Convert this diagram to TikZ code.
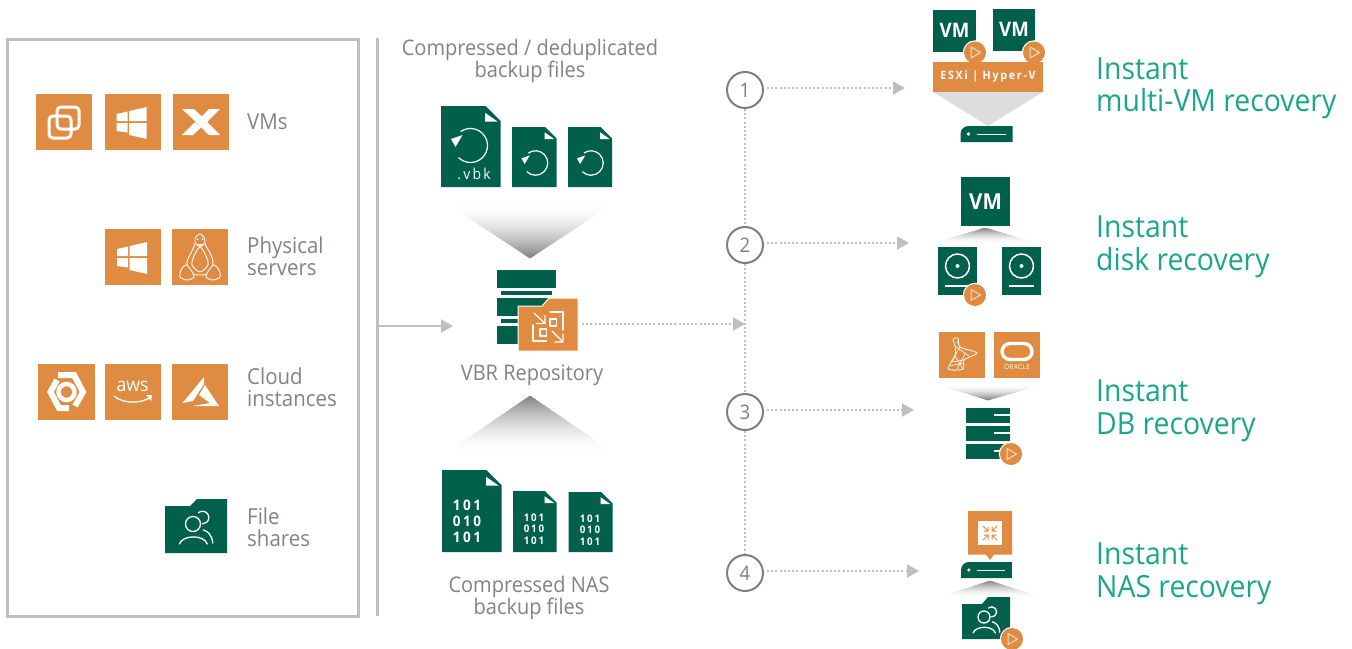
\documentclass[tikz,border=0pt]{standalone}
\usepackage{fontspec}
\setmainfont[FakeStretch=0.93]{Open Sans}
\usetikzlibrary{arrows.meta}
\definecolor{vorange}{HTML}{DF8C42}
\definecolor{vgreen}{HTML}{00604C}
\definecolor{vteal}{HTML}{1AA68D}
\definecolor{vtext}{HTML}{7F8485}
\definecolor{vline}{HTML}{BFBFBF}
\definecolor{vring}{HTML}{7F7F7F}
\definecolor{vplay}{HTML}{F6DCC4}
\definecolor{vfunnel}{HTML}{DCDEDD}
\newcommand{\fs}[2]{\fontsize{#1}{#2}\selectfont}
\newcommand{\spaced}[1]{\addfontfeature{LetterSpace=#1}}
% file icon: x0 y0 x1 y1 cut
\newcommand{\docicon}[5]{%
  \fill[vgreen] (#1,#2) -- ({#3-#5},#2) -- (#3,{#2+#5}) -- (#3,#4) -- (#1,#4) -- cycle;
  \fill[white] ({#3-#5-0.5},{#2+0.45*#5}) -- ({#3-0.2*#5},{#2+#5+0.5}) -- ({#3-#5-0.5},{#2+#5+0.5}) -- cycle;
}
% fading triangle: tip x, tip y, base x0, base x1, base y
\newcommand{\funnel}[5]{%
  \foreach \k in {1,...,40}{%
    \pgfmathsetmacro{\tt}{\k/40}%
    \pgfmathsetmacro{\pct}{50*pow(\tt,1.7)}%
    \fill[black!\pct!white] (#1,#2) -- ({#3+(#1-#3)*\tt},{#5+(#2-#5)*\tt}) -- ({#4+(#1-#4)*\tt},{#5+(#2-#5)*\tt}) -- cycle;
  }%
}
\tikzset{
  x=1pt,y=-1pt,
  grouplabel/.style={anchor=west,inner sep=0,align=left,text=vtext,font=\fs{22}{22.5}},
  midlabel/.style={inner sep=0,align=center,text=vtext,font=\fs{21.5}{22.5}},
  reclabel/.style={anchor=west,inner sep=0,align=left,text=vteal,font=\fs{30.5}{32.5}},
  stepring/.style={circle,draw=vring,line width=2,fill=white,minimum size=36,inner sep=0,text=vring,font=\fs{20}{20}},
  dotline/.style={draw=vline,line width=2,dash pattern=on 2pt off 2.2pt},
  bigtip/.style={-{Triangle[length=12,width=13,fill=vline]}},
  white1/.style={draw=white,line width=1.2,line cap=round,line join=round},
  inicon/.style={inner sep=0,text=white,align=center},
  playmark/.pic={
    \fill[white] (0,0) circle[radius=12.2];
    \fill[vorange] (0,0) circle[radius=11];
    \draw[draw=vplay,line width=1,line join=round] (-4,-5.5) -- (5.5,0) -- (-4,5.5) -- cycle;
  },
  reloadmark/.pic={
    \draw[white,line width=1.2] (135:17) arc[start angle=135,end angle=-125,radius=17];
    \fill[white] (-19.5,-6.5) -- (-8,-10.5) -- (-15,1.5) -- cycle;
  },
  peoplemark/.pic={
    \draw[white1,line width=1.3] (0,0) circle[radius=7.5];
    \draw[white1,line width=1.3] (5.5,-11.3) arc[start angle=-130,end angle=90,radius=6.3];
    \draw[white1,line width=1.3] (-13.7,20) .. controls (-10,10.5) and (11,10.5) .. (14.3,20);
    \draw[white1,line width=1.3] (10.3,6) .. controls (14,7) and (19,10) .. (19.7,19);
  },
  vsphere/.pic={
    \fill[vorange] (0,0) rectangle (56,56);
    \draw[white,line width=3,rounded corners=4] (13,22) rectangle (35,44);
    \draw[white,line width=3,rounded corners=4] (21,13) rectangle (43,35);
  },
  winlogo/.pic={
    \fill[vorange] (0,0) rectangle (56,56);
    \fill[white] (12,20) -- (23,17.5) -- (23,27) -- (12,27) -- cycle;
    \fill[white] (24.7,17) -- (42,13) -- (42,27) -- (24.7,27) -- cycle;
    \fill[white] (12,29) -- (23,29) -- (23,38.5) -- (12,37) -- cycle;
    \fill[white] (24.7,29) -- (42,29) -- (42,45) -- (24.7,41) -- cycle;
  },
  nutanix/.pic={
    \fill[vorange] (0,0) rectangle (56,56);
    \fill[white] (9,15) -- (21,15) -- (47,41) -- (36,41) -- (24,29) -- cycle;
    \fill[white] (47,15) -- (36,15) -- (28,23) -- (33,29) -- cycle;
    \fill[white] (9,41) -- (20,41) -- (28,33.5) -- (22,28) -- cycle;
  },
  tux/.pic={
    \fill[vorange] (0,0) rectangle (56,56);
    \draw[white1,line width=.9] plot[smooth cycle] coordinates {(28,5) (32.5,9) (33,15) (38,24) (41,33) (38,44) (28,46) (18,44) (15,33) (19,24) (23,15) (23,9)};
    \draw[white1,line width=.9] plot[smooth cycle] coordinates {(28,18) (34,27) (36,36) (28,43) (20,36) (22,27)};
    \draw[white1,line width=.9,fill=vorange] plot[smooth cycle] coordinates {(9,41) (14,36) (19,41) (22,48) (15,51) (8,48)};
    \draw[white1,line width=.9,fill=vorange] plot[smooth cycle] coordinates {(47,41) (42,36) (37,41) (34,48) (41,51) (48,48)};
    \fill[white] (23,14) .. controls (25,16) and (31,16) .. (33,14) .. controls (31,19) and (25,19) .. (23,14) -- cycle;
    \fill[white] (25.5,10) circle[radius=1];
    \fill[white] (30.5,10) circle[radius=1];
  },
  gcp/.pic={
    \fill[vorange] (0,0) rectangle (57,56);
    \draw[white,line width=6] (20,11) -- (36,11) -- (45,28) -- (37,42);
    \draw[white,line width=6] (31,44) -- (21,44) -- (12.5,28) -- (19,16);
    \draw[white,line width=4.5] (28.5,28) circle[radius=8];
  },
  awsicon/.pic={
    \fill[vorange] (0,0) rectangle (56,56);
    \node[inicon,font=\fs{19}{19}] (awsword) at (27.5,22.5) {aws};
    \draw[white,line width=1.3] (9,32) .. controls (18,40) and (36,40) .. (46,33);
    \fill[white] (41,31) -- (47,31) -- (46,37) -- cycle;
  },
  azure/.pic={
    \fill[vorange] (0,0) rectangle (56,56);
    \fill[white] (32,13) -- (10.5,39) -- (21,37) -- (32,20) -- cycle;
    \fill[white] (33,21) -- (47,42) -- (21,42) -- (38,39) -- (27,31) -- cycle;
  },
  sqlicon/.pic={
    \fill[vorange] (0,0) rectangle (46,46);
    \draw[white1,line width=.8] plot[smooth cycle] coordinates {(14,7) (19,6) (21,15) (38,21) (25,28) (24,37) (9,37) (16,24) (16,14)};
    \draw[white1,line width=.6] (16,14) -- (30,24) (21,15) -- (12,30) (16,24) -- (24,37) (13,30) -- (25,28) (17,10) -- (20,11) (11,34) -- (24,31) (18,37) -- (26,22);
  },
  oraclemark/.pic={
    \fill[vorange] (0,0) rectangle (46,46);
    \draw[white,line width=3.4] (16,11.5) -- (30,11.5) arc[start angle=-90,end angle=90,radius=8] -- (16,27.5) arc[start angle=90,end angle=270,radius=8] -- cycle;
    \node[inicon,font=\fs{7}{7}] (oracleword) at (23,35) {\spaced{5}ORACLE};
  },
  serverbar/.pic={
    \fill[vgreen] (0,16) -- (0,8) arc[start angle=180,end angle=270,radius=8] -- (52,0) -- (52,16) -- cycle;
    \fill[white] (8,8) circle[radius=1.8];
    \draw[white,line width=.9] (16,8) -- (45,8);
  },
  diskicon/.pic={
    \fill[vgreen] (0,0) rectangle (39,48);
    \draw[white,line width=1.5] (19.5,19) circle[radius=12];
    \fill[white] (19.5,19) circle[radius=2];
    \draw[white,line width=1.5] (7,39) -- (32,39);
  },
  vmsquare/.pic={
    \fill[vgreen] (0,0) rectangle (42.5,42);
    \node[inicon,font=\bfseries\fs{20}{20}] (vmword) at (21.5,20.5) {VM};
  }
}
\begin{document}
\begin{tikzpicture}
\useasboundingbox (0,0) rectangle (1352,648);
\fill[white] (0,0) rectangle (1352,648);

% left frame and divider
\node[draw=vline,line width=3,outer sep=0,minimum width=351,minimum height=577,inner sep=0,anchor=north west] (sources) at (7,39) {};
\coordinate (divtop) at (377.5,38);
\coordinate (divbot) at (377.5,616);
\draw[vline,line width=3] (divtop) -- (divbot);

% sources
\pic at (36,94) {vsphere};
\pic at (104.5,94) {winlogo};
\pic at (173,94) {nutanix};
\node[grouplabel] (vmslabel) at (247,122) {VMs};
\pic at (105,229) {winlogo};
\pic at (172,229) {tux};
\node[grouplabel] (physlabel) at (247,256) {Physical\\servers};
\pic at (38,364) {gcp};
\pic at (105,364) {awsicon};
\pic at (172,364) {azure};
\node[grouplabel] (cloudlabel) at (247,387) {Cloud\\instances};
\fill[vgreen] (165,506) -- (190,506) -- (197,499) -- (227,499) -- (227,553) -- (165,553) -- cycle;
\pic at (193,524) {peoplemark};
\node[grouplabel] (filelabel) at (247,527) {File\\shares};

% backup files
\node[midlabel] (toplabel) at (530,61) {Compressed / deduplicated\\backup files};
\docicon{441}{106}{500.5}{187}{15}
\pic at (470.5,145.5) {reloadmark};
\node[inicon,font=\fs{15}{15}] (vbktext) at (474,174) {\spaced{15}.vbk};
\docicon{512}{127}{556.5}{187}{11.5}
\pic[scale=.72] at (535.5,163) {reloadmark};
\docicon{568}{127}{612}{187}{11.5}
\pic[scale=.72] at (591,163) {reloadmark};
\funnel{530}{258}{448}{612}{204}

% repository
\fill[vgreen] (497,270) rectangle (556,288);
\fill[vgreen] (501,291) rectangle (552,295);
\fill[vgreen] (497,298) rectangle (555,316);
\fill[vgreen] (501,319) rectangle (552,323);
\fill[vgreen] (497,326) rectangle (555,344);
\draw[fill=vorange,draw=white,line width=1] (518,306) -- (542,306) -- (549,298) -- (578,298) -- (578,351) -- (518,351) -- cycle;
\draw[white1] (550,312) -- (563,312) -- (563,330);
\draw[white1] (546.5,341) -- (533,341) -- (533,325);
\draw[white1] (550,319) rectangle (556.5,326);
\draw[white1] (540,329) rectangle (546.5,336);
\draw[white1] (534,313) -- (545,323.5) (545,315.5) -- (545,323.5) -- (536.5,323.5);
\draw[white1] (552,331) -- (563,342) (563,334) -- (563,342) -- (555,342);
\node[minimum width=81,minimum height=81,inner sep=0,anchor=north west] (repo) at (497,270) {};
\node[midlabel] (repolabel) at (532,375) {VBR Repository};
\coordinate (repoin) at (378,326);
\coordinate (repoinend) at (453,326);
\draw[vline,line width=2,bigtip] (repoin) -- (repoinend);

% NAS files
\funnel{530}{396}{448}{612}{452}
\docicon{442}{470}{501.5}{552}{15}
\node[inicon,font=\bfseries\fs{14.5}{16}] (nasa) at (467,521) {\spaced{18}101\\\spaced{18}010\\\spaced{18}101};
\docicon{513}{491}{556.5}{552}{11.5}
\node[inicon,font=\bfseries\fs{10.5}{11.5}] (nasb) at (534,529) {\spaced{18}101\\\spaced{18}010\\\spaced{18}101};
\docicon{568.5}{492}{612.5}{552}{11.5}
\node[inicon,font=\bfseries\fs{10.5}{11.5}] (nasc) at (590,530) {\spaced{18}101\\\spaced{18}010\\\spaced{18}101};
\node[midlabel] (naslabel) at (529,598) {Compressed NAS\\backup files};

% steps
\node[stepring] (c1) at (745,90) {1};
\node[stepring] (c2) at (745,245) {2};
\node[stepring] (c3) at (745,412) {3};
\node[stepring] (c4) at (745,573) {4};
\draw[dotline] (c1.south) -- (c2.north);
\draw[dotline] (c2.south) -- (c3.north);
\draw[dotline] (c3.south) -- (c4.north);
\coordinate (repoout) at (582,324);
\coordinate (busin) at (745,324);
\draw[dotline,bigtip] (repoout) -- (busin);
\coordinate (a1) at (767,88);
\coordinate (a2) at (767,243);
\coordinate (a3) at (767,410);
\coordinate (a4) at (767,571);
\coordinate (b1) at (905,88);
\coordinate (b2) at (909,243);
\coordinate (b3) at (914,410);
\coordinate (b4) at (919,571);
\draw[dotline,bigtip] (a1) -- (b1);
\draw[dotline,bigtip] (a2) -- (b2);
\draw[dotline,bigtip] (a3) -- (b3);
\draw[dotline,bigtip] (a4) -- (b4);

% group 1
\pic at (933,10) {vmsquare};
\pic at (992.5,9) {vmsquare};
\pic at (975,52.5) {playmark};
\pic at (1034,52.5) {playmark};
\fill[vorange] (933,61.5) rectangle (1043,91.5);
\node[inicon,font=\bfseries\fs{11.5}{12}] (esxi) at (988,76.5) {\spaced{15}ESXi | Hyper-V};
\fill[vfunnel] (933,92) -- (1043,92) -- (988,126) -- cycle;
\pic at (960.5,126) {serverbar};
\node[reclabel] (rec1) at (1096,88.5) {Instant\\multi-VM recovery};

% group 2
\fill[vgreen] (961,177) rectangle (1009.5,225.5);
\node[inicon,font=\bfseries\fs{22}{22}] (vmword2) at (985.5,202) {VM};
\funnel{985}{228}{935}{1036}{243}
\pic at (938,247) {diskicon};
\pic at (1002,247) {diskicon};
\pic at (975,295) {playmark};
\node[reclabel] (rec2) at (1096,247) {Instant\\disk recovery};

% group 3
\pic at (939,332) {sqlicon};
\pic at (994,332) {oraclemark};
\funnel{988}{400}{940}{1040}{385}
\fill[vgreen] (966,408) rectangle (1009.5,422.5);
\fill[vgreen] (966,426) rectangle (1009.5,440.5);
\fill[vgreen] (966,444) rectangle (1009.5,458.5);
\fill[white] (994,414) rectangle (1009.5,416);
\fill[white] (994,432) rectangle (1009.5,434);
\fill[white] (994,450) rectangle (1009.5,452);
\pic at (1011,454) {playmark};
\node[reclabel] (rec3) at (1096,411) {Instant\\DB recovery};

% group 4
\fill[vorange] (968,511) rectangle (1012,554.5) (986,554.5) -- (994,554.5) -- (990,560) -- cycle;
\fill[white] (978,521) rectangle (1002,545);
\draw[vorange,line width=1] (983,526) -- (988,531) (988,526.5) -- (988,531) -- (983.5,531);
\draw[vorange,line width=1] (997,526) -- (992,531) (992,526.5) -- (992,531) -- (996.5,531);
\draw[vorange,line width=1] (983,540) -- (988,535) (988,539.5) -- (988,535) -- (983.5,535);
\draw[vorange,line width=1] (997,540) -- (992,535) (992,539.5) -- (992,535) -- (996.5,535);
\pic[xscale=.98] at (961,562) {serverbar};
\funnel{990}{581}{940}{1040}{597}
\fill[vgreen] (962,604) -- (982,604) -- (988,597) -- (1010,597) -- (1010,639) -- (962,639) -- cycle;
\pic[scale=.8] at (984,617) {peoplemark};
\pic at (1012,639) {playmark};
\node[reclabel] (rec4) at (1096,574) {Instant\\NAS recovery};
\end{tikzpicture}
\end{document}
